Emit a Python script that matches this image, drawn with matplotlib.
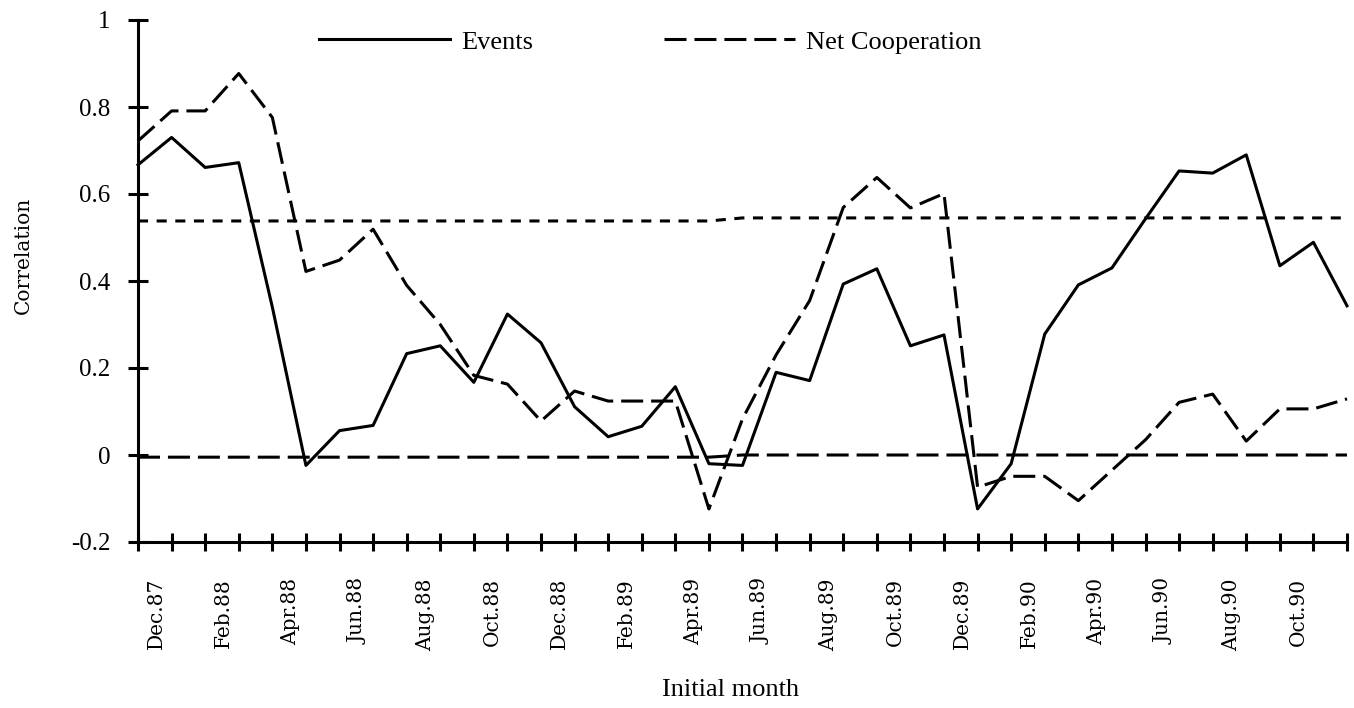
import numpy as np
import matplotlib.pyplot as plt
from matplotlib.font_manager import FontProperties

# Monthly correlations, Dec.87 .. Dec.90
events = [0.667, 0.730, 0.661, 0.672, 0.340, -0.024, 0.056, 0.068, 0.233, 0.251,
          0.167, 0.324, 0.258, 0.111, 0.042, 0.066, 0.157, -0.020, -0.024, 0.190,
          0.171, 0.393, 0.428, 0.251, 0.276, -0.124, -0.020, 0.278, 0.391, 0.430,
          0.543, 0.653, 0.648, 0.690, 0.435, 0.489, 0.343]
net_coop = [0.722, 0.791, 0.791, 0.877, 0.776, 0.422, 0.448, 0.519, 0.390, 0.300,
            0.183, 0.163, 0.078, 0.147, 0.124, 0.124, 0.124, -0.124, 0.083, 0.230,
            0.355, 0.569, 0.638, 0.568, 0.601, -0.074, -0.049, -0.049, -0.105, -0.035,
            0.035, 0.121, 0.140, 0.032, 0.106, 0.106, 0.129]
# reference levels (two periods)
upper_level = [0.538] * 18 + [0.545] * 19
zero_level = [-0.005] * 18 + [0.0] * 19

tick_labels = ["Dec.87", "Feb.88", "Apr.88", "Jun.88", "Aug.88", "Oct.88",
               "Dec.88", "Feb.89", "Apr.89", "Jun.89", "Aug.89", "Oct.89",
               "Dec.89", "Feb.90", "Apr.90", "Jun.90", "Aug.90", "Oct.90"]
y_ticks = [-0.2, 0, 0.2, 0.4, 0.6, 0.8, 1]
y_labels = ["-0.2", "0", "0.2", "0.4", "0.6", "0.8", "1"]

x = np.arange(len(events))
W, H = 1354, 708
fig = plt.figure(figsize=(W / 100, H / 100), dpi=100)
ax = fig.add_axes([138 / W, 1 - 542 / H, (1347 - 138) / W, (542 - 20) / H])

lw = 2.2
dash = (0, (7.2, 2.6))
ax.plot(x, upper_level, color='black', lw=lw, linestyle=(0, (3.3, 2.8)), clip_on=False)
ax.plot(x, zero_level, color='black', lw=lw, linestyle=dash, clip_on=False)
l1, = ax.plot(x, events, color='black', lw=lw, clip_on=False, label='Events')
l2, = ax.plot(x, net_coop, color='black', lw=lw, linestyle=dash, clip_on=False,
              label='Net Cooperation')

ax.set_xlim(0, 36)
ax.set_ylim(-0.2, 1)
for s in ['top', 'right']:
    ax.spines[s].set_visible(False)
for s in ['left', 'bottom']:
    ax.spines[s].set_linewidth(lw)

serif = 'Liberation Serif'
ax.set_yticks(y_ticks)
ax.set_yticklabels(y_labels, fontfamily=serif, fontsize=18)
ax.tick_params(axis='y', direction='inout', length=14, width=lw, pad=13)

ax.set_xticks(x)
ax.set_xticklabels([])
ax.tick_params(axis='x', which='major', direction='inout', length=12.5, width=lw)
label_pos = np.arange(0, 35, 2) + 0.55
ax.set_xticks(label_pos, minor=True)
ax.set_xticklabels(tick_labels, minor=True, rotation=90, fontfamily='DejaVu Serif',
                   fontsize=14.5)
ax.tick_params(axis='x', which='minor', length=0, pad=26)

fig.text(731 / W, 1 - 690 / H, 'Initial month', ha='center', va='center',
         fontfamily=serif, fontsize=19)
fig.text(23 / W, 1 - 255 / H, 'Correlation', rotation=90, ha='center', va='center',
         fontfamily='DejaVu Serif', fontsize=14.5)

ax.legend(handles=[l1, l2], ncol=2, frameon=False, loc='center left',
          bbox_to_anchor=(319 / W, 1 - 42 / H), bbox_transform=fig.transFigure,
          borderpad=0, borderaxespad=0, handlelength=4.96, handletextpad=0.42,
          columnspacing=4.96, prop=FontProperties(family=serif, size=19))

fig.savefig('out.png', dpi=100)
